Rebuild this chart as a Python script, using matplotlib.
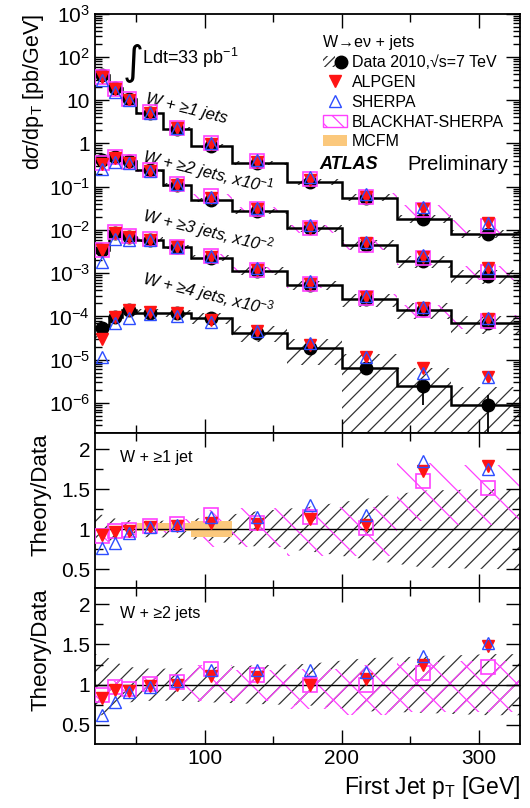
import numpy as np
import matplotlib
matplotlib.use('Agg')
import matplotlib.pyplot as plt
from matplotlib.lines import Line2D
from matplotlib.patches import Patch
from matplotlib.legend_handler import HandlerTuple
from matplotlib.ticker import FixedLocator, FuncFormatter, MultipleLocator, LogLocator, NullFormatter

plt.rcParams['font.family'] = ['Liberation Sans', 'DejaVu Sans']
plt.rcParams['mathtext.fontset'] = 'custom'
plt.rcParams['mathtext.rm'] = 'Liberation Sans'
plt.rcParams['mathtext.it'] = 'Liberation Sans:italic'
plt.rcParams['mathtext.bf'] = 'Liberation Sans:bold'
plt.rcParams['hatch.linewidth'] = 0.9

# first jet pT binning [GeV] and marker positions
bin_edges = [20, 30, 40, 50, 70, 90, 120, 160, 200, 240, 280, 330]
pt_points = [25, 35, 45, 60, 80, 105, 138, 177, 218, 259, 307]

# measured dsigma/dpT [pb/GeV], before the x10^-n display scaling
data_1jet = [38, 19, 10.6, 5.0, 2.2, 0.88, 0.36, 0.13, 0.056, 0.018, 0.0082]
data_2jet = [4.1, 4.9, 3.9, 2.4, 1.12, 0.50, 0.27, 0.11, 0.046, 0.019, 0.0088]
data_3jet = [0.35, 0.87, 0.70, 0.60, 0.41, 0.23, 0.115, 0.054, 0.025, 0.0142, 0.0072]
data_4jet = [0.053, 0.098, 0.144, 0.122, 0.118, 0.093, 0.042, 0.019, 0.0063, 0.0025, 0.00089]
scales = [1.0, 1e-1, 1e-2, 1e-3]

# relative systematic band on data (top panel)
sys_1jet = [0.08, 0.08, 0.08, 0.08, 0.08, 0.10, 0.12, 0.15, 0.18, 0.20, 0.22]
sys_2jet = [0.15, 0.12, 0.10, 0.10, 0.10, 0.12, 0.15, 0.20, 0.25, 0.30, 0.35]
sys_3jet = [0.20, 0.15, 0.12, 0.12, 0.12, 0.15, 0.20, 0.25, 0.35, 0.40, 0.45]
sys_4jet = [0.40, 0.30, 0.25, 0.20, 0.20, 0.30, 0.40, 0.60, 1.20, 1.60, 1.60]
stat_4jet = [0.05, 0.05, 0.05, 0.05, 0.05, 0.08, 0.12, 0.20, 0.30, 0.65, 0.95]
bh_unc_top = [0.08, 0.08, 0.08, 0.08, 0.10, 0.12, 0.15, 0.20, 0.25, 0.30, 0.35]

# theory / data
alp_1jet = [0.92, 0.96, 0.97, 1.03, 1.04, 1.075, 1.06, 1.12, 1.05, 1.72, 1.79]
she_1jet = [0.76, 0.83, 0.95, 1.03, 1.05, 1.15, 1.15, 1.30, 1.18, 1.85, 1.75]
bh_1jet = [0.91, 0.97, 0.99, 1.04, 1.06, 1.17, 1.08, 1.15, 1.01, 1.60, 1.51]
alp_2jet = [0.83, 0.94, 0.92, 0.98, 1.00, 1.11, 1.10, 1.00, 1.075, 1.24, 1.48]
she_2jet = [0.62, 0.78, 0.91, 0.97, 1.05, 1.18, 1.18, 1.18, 1.16, 1.36, 1.52]
bh_2jet = [0.87, 0.97, 0.95, 1.01, 1.03, 1.19, 1.12, 0.99, 0.99, 1.15, 1.22]
alp_3jet = [1.0, 1.0, 1.0, 1.0, 1.0, 1.05, 1.05, 1.05, 1.1, 1.1, 1.2]
she_3jet = [0.53, 0.72, 0.85, 0.95, 1.0, 1.1, 1.15, 1.2, 1.2, 1.15, 1.3]
bh_3jet = [1.0, 1.05, 1.05, 1.05, 1.0, 1.1, 1.05, 1.05, 1.05, 1.0, 1.1]
alp_4jet = [0.57, 1.0, 1.0, 1.05, 1.0, 0.9, 1.1, 1.15, 1.8, 2.6, 4.5]
she_4jet = [0.22, 0.73, 0.64, 0.95, 0.85, 0.8, 1.1, 1.3, 1.8, 2.0, 4.5]

# ratio panel bands
band_1jet = [0.18, 0.13, 0.11, 0.10, 0.11, 0.15, 0.22, 0.28, 0.38, 0.48, 0.50]
band_2jet = [0.38, 0.28, 0.22, 0.20, 0.20, 0.22, 0.24, 0.26, 0.33, 0.35, 0.38]
pink_lo_1jet = [0.85, 0.90, 0.92, 0.95, 0.95, 0.78, 0.78, 0.66, 0.66, 1.10, 1.05]
pink_hi_1jet = [0.98, 1.04, 1.06, 1.10, 1.12, 1.24, 1.26, 1.28, 1.28, 1.82, 1.80]
pink_lo_2jet = [0.80, 0.90, 0.90, 0.92, 0.92, 0.80, 0.80, 0.70, 0.62, 0.66, 0.66]
pink_hi_2jet = [0.95, 1.05, 1.05, 1.10, 1.12, 1.24, 1.18, 1.20, 1.24, 1.28, 1.30]
mcfm_edges = [50, 70, 90, 120]
mcfm_lo = [0.97, 0.97, 0.90]
mcfm_hi = [1.075, 1.075, 1.10]

labels_top = ['W + \u22651 jets', 'W + \u22652 jets, x10$^{-1}$',
              'W + \u22653 jets, x10$^{-2}$', 'W + \u22654 jets, x10$^{-3}$']
decades = [1e-6, 1e-5, 1e-4, 1e-3, 1e-2, 1e-1, 1, 10, 1e2, 1e3]

RED = '#ff1414'
BLUE = '#2d4dff'
PINK = '#ff40ff'
ORANGE = '#fbc87c'


def stepfill(ax, lo, hi, edges, **kw):
    ax.fill_between(edges, list(lo) + [lo[-1]], list(hi) + [hi[-1]], step='post', **kw)


fig = plt.figure(figsize=(5.3, 8.08), dpi=100)
ax = fig.add_axes([0.179, 0.464, 0.802, 0.519])
ax1 = fig.add_axes([0.179, 0.272, 0.802, 0.192], sharex=ax)
ax2 = fig.add_axes([0.179, 0.079, 0.802, 0.193], sharex=ax)

all_data = [data_1jet, data_2jet, data_3jet, data_4jet]
all_sys = [sys_1jet, sys_2jet, sys_3jet, sys_4jet]
all_alp = [alp_1jet, alp_2jet, alp_3jet, alp_4jet]
all_she = [she_1jet, she_2jet, she_3jet, she_4jet]
all_bh = [bh_1jet, bh_2jet, bh_3jet, None]

for d, s, a, sh, b, sc in zip(all_data, all_sys, all_alp, all_she, all_bh, scales):
    d = np.array(d) * sc
    s = np.array(s)
    lo = np.clip(d * (1 - s), 1e-9, None)
    hi = d * (1 + s)
    stepfill(ax, lo, hi, bin_edges, facecolor='none', edgecolor='#333333', hatch='//', linewidth=0, zorder=1)
    if b is not None:
        bv = d * np.array(b)
        u = np.array(bh_unc_top)
        stepfill(ax, bv * (1 - u), bv * (1 + u), bin_edges, facecolor='none', edgecolor=PINK,
                 hatch='\\', linewidth=0, zorder=1)
    ax.stairs(d, bin_edges, baseline=None, color='k', lw=1.8, zorder=2)
    ax.plot(pt_points, d, 'o', color='k', ms=9, zorder=3)
    if b is not None:
        ax.plot(pt_points, d * np.array(b), 's', mfc='none', mec=PINK, mew=1.2, ms=10, zorder=4)
    ax.plot(pt_points, d * np.array(a), 'v', color=RED, ms=9, zorder=5)
    ax.plot(pt_points, d * np.array(sh), '^', mfc='none', mec=BLUE, mew=1.0, ms=9, zorder=6)

# statistical error bars visible for the 4-jet spectrum
d4 = np.array(data_4jet) * scales[3]
e4 = np.array(stat_4jet)
ax.errorbar(pt_points, d4, yerr=[d4 * np.clip(e4, 0, 0.999), d4 * e4 * 0.7], fmt='none',
            ecolor='k', elinewidth=1.3, zorder=3)

ax.set_yscale('log')
ax.set_ylim(2e-7, 1e3)
ax.set_xlim(20, 330)


def dec_fmt(v, pos):
    e = int(round(np.log10(v)))
    if e == 0:
        return '1'
    if e == 1:
        return '10'
    return r'$\mathregular{10^{%d}}$' % e


ax.yaxis.set_major_locator(FixedLocator(decades))
ax.yaxis.set_major_formatter(FuncFormatter(dec_fmt))
ax.yaxis.set_minor_locator(LogLocator(base=10, subs=np.arange(2, 10), numticks=20))
ax.yaxis.set_minor_formatter(NullFormatter())
ax.set_ylabel(r'd$\sigma$/dp$_\mathregular{T}$ [pb/GeV]', fontsize=15.5, loc='top', labelpad=2)

# series labels
label_pos = [(0.215, 0.772), (0.265, 0.623), (0.265, 0.482), (0.265, 0.332)]
for (lx, ly), txt in zip(label_pos, labels_top):
    ax.text(lx, ly, txt, transform=ax.transAxes, fontsize=12, style='italic',
            rotation=-14, ha='center', va='center')

ax.text(0.09, 0.885, '\u222b', transform=ax.transAxes, fontsize=29, ha='center', va='center',
        family=['DejaVu Sans'])
ax.text(0.11, 0.895, 'Ldt=33 pb$^{-1}$', transform=ax.transAxes, fontsize=13, ha='left', va='center')
ax.text(0.528, 0.64, 'ATLAS', transform=ax.transAxes, fontsize=13, weight='bold', style='italic',
        ha='left', va='center')
ax.text(0.735, 0.64, 'Preliminary', transform=ax.transAxes, fontsize=14.5, ha='left', va='center')

handles = [
    (Patch(facecolor='none', edgecolor='#333333', hatch='////', linewidth=0),
     Line2D([], [], marker='o', color='k', ls='none', ms=9)),
    Line2D([], [], marker='v', color=RED, ls='none', ms=9),
    Line2D([], [], marker='^', mfc='none', mec=BLUE, ls='none', ms=9),
    Patch(facecolor='none', edgecolor=PINK, hatch='\\\\'),
    Patch(facecolor=ORANGE, edgecolor='none'),
]
names = ['Data 2010,\u221As=7 TeV', 'ALPGEN', 'SHERPA', 'BLACKHAT-SHERPA', 'MCFM']
leg = ax.legend(handles, names, loc='upper left', bbox_to_anchor=(0.51, 0.975), frameon=False,
                fontsize=11.5, title='W\u2192e\u03bd + jets', title_fontsize=11.5,
                handlelength=1.5, handletextpad=0.3, labelspacing=0.3, borderpad=0.2,
                handler_map={tuple: HandlerTuple(ndivide=None, pad=0)})
leg._legend_box.align = 'left'

# ratio panels
ratio_sets = [
    (ax1, alp_1jet, she_1jet, bh_1jet, band_1jet, pink_lo_1jet, pink_hi_1jet, 'W + \u22651 jet'),
    (ax2, alp_2jet, she_2jet, bh_2jet, band_2jet, pink_lo_2jet, pink_hi_2jet, 'W + \u22652 jets'),
]
for rax, a, sh, b, band, plo, phi, lab in ratio_sets:
    xb = [bin_edges[0]] + pt_points + [bin_edges[-1]]
    ub = [band[0]] + band + [band[-1]]
    rax.fill_between(xb, [1 - u for u in ub], [1 + u for u in ub], facecolor='none',
                     edgecolor='#333333', hatch='//', linewidth=0, zorder=1)
    stepfill(rax, plo, phi, bin_edges, facecolor='none', edgecolor=PINK,
             hatch='\\' if rax is ax1 else 'x', linewidth=0, zorder=1)
    if rax is ax1:
        stepfill(rax, mcfm_lo, mcfm_hi, mcfm_edges, facecolor=ORANGE, edgecolor='none', zorder=2)
    rax.axhline(1, color='k', lw=1.0, zorder=3)
    rax.plot(pt_points, b, 's', mfc='none', mec=PINK, mew=1.2, ms=10, zorder=4)
    rax.plot(pt_points, a, 'v', color=RED, ms=9, zorder=5)
    rax.plot(pt_points, sh, '^', mfc='none', mec=BLUE, mew=1.0, ms=9, zorder=6)
    rax.set_ylim(0.26, 2.2)
    rax.yaxis.set_major_locator(FixedLocator([0.5, 1, 1.5, 2]))
    rax.yaxis.set_major_formatter(FuncFormatter(lambda v, p: '%g' % v))
    rax.yaxis.set_minor_locator(MultipleLocator(0.25))
    rax.set_ylabel('Theory/Data', fontsize=16, loc='top', labelpad=7)
    rax.text(0.06, 0.84, lab, transform=rax.transAxes, fontsize=11.5, ha='left', va='center')

for a_ in (ax, ax1, ax2):
    a_.xaxis.set_major_locator(MultipleLocator(100))
    a_.xaxis.set_minor_locator(MultipleLocator(50))
    a_.tick_params(which='both', direction='in', top=True, right=True, width=1.0)
    a_.tick_params(which='major', length=10, labelsize=15)
    a_.tick_params(which='minor', length=6)
    for sp in a_.spines.values():
        sp.set_linewidth(1.3)
ax.tick_params(axis='x', labelbottom=False)
ax1.tick_params(axis='x', labelbottom=False)
ax1.tick_params(axis='y', labelsize=15)
ax2.tick_params(axis='y', labelsize=15)
ax.tick_params(axis='y', which='minor', length=5)
ax2.set_xlabel('First Jet p$_\\mathregular{T}$ [GeV]', fontsize=16.5, loc='right', labelpad=4)

fig.savefig('out.png', dpi=100)
